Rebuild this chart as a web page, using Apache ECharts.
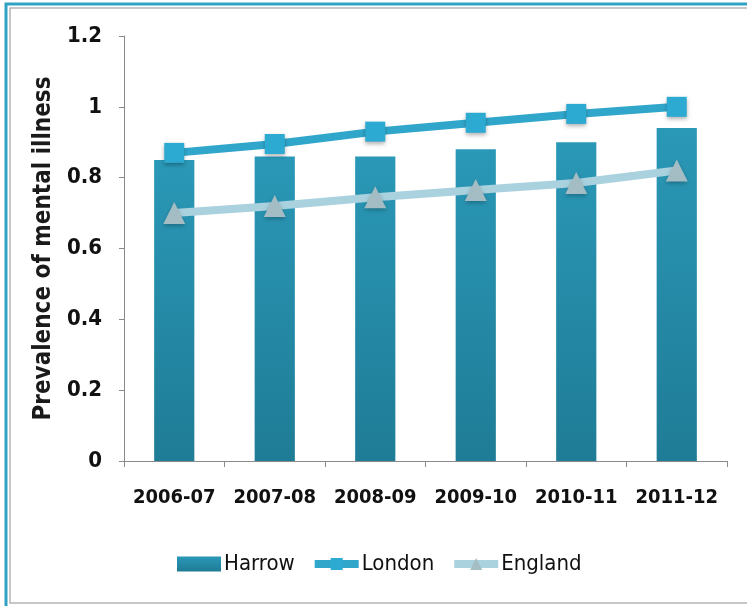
<!DOCTYPE html>
<html>
<head>
<meta charset="utf-8">
<script src="https://cdn.jsdelivr.net/npm/echarts@6/dist/echarts.min.js"></script>
<style>
html,body{margin:0;padding:0;background:#fff;}
#c{width:747px;height:606px;}
</style>
</head>
<body>
<div id="c"></div>
<script>
var categories = ['2006-07','2007-08','2008-09','2009-10','2010-11','2011-12'];
var harrow = [0.85, 0.86, 0.86, 0.88, 0.90, 0.94];
var london = [0.87, 0.895, 0.93, 0.955, 0.98, 1.00];
var england = [0.70, 0.72, 0.745, 0.765, 0.785, 0.82];
var yTicks = [0, 0.2, 0.4, 0.6, 0.8, 1, 1.2];

var FONT = '"DejaVu Sans Condensed", "Liberation Sans Narrow", "Open Sans", sans-serif';
var chart = echarts.init(document.getElementById('c'), null, {renderer: 'canvas'});
chart.setOption({
  backgroundColor: '#fff',
  animation: false,
  graphic: [
    {type: 'rect', shape: {x: 6, y: 4, width: 760, height: 610}, style: {fill: 'none', stroke: '#2fa2c4', lineWidth: 3}},
    {type: 'rect', shape: {x: 10, y: 8, width: 760, height: 595}, style: {fill: 'none', stroke: '#b5b5b5', lineWidth: 1.5}}
  ],
  grid: {left: 124, right: 20, top: 36, bottom: 145, containLabel: false},
  legend: {
    top: 548,
    left: 172,
    itemWidth: 44,
    itemHeight: 15,
    itemGap: 16,
    lineStyle: {width: 8},
    textStyle: {fontFamily: FONT, fontSize: 22, color: '#111', padding: [0, 0, 0, -2]},
    data: [{name: 'Harrow', icon: 'rect'}, {name: 'London'}, {name: 'England'}]
  },
  xAxis: {
    type: 'category',
    data: categories,
    axisLine: {lineStyle: {color: '#8a8a8a', width: 1}},
    axisTick: {show: true, length: 6, lineStyle: {color: '#8a8a8a'}},
    axisLabel: {interval: 0, fontFamily: FONT, fontSize: 20, fontWeight: 'bold', color: '#111', margin: 27}
  },
  yAxis: {
    type: 'value',
    min: 0, max: 1.2, interval: 0.2,
    name: 'Prevalence of mental illness',
    nameLocation: 'middle',
    nameGap: 64,
    nameTextStyle: {fontFamily: FONT, fontSize: 24, fontWeight: 'bold', color: '#1a1a1a'},
    axisLine: {show: true, lineStyle: {color: '#8a8a8a', width: 1}},
    axisTick: {show: true, length: 5, lineStyle: {color: '#8a8a8a'}},
    splitLine: {show: false},
    axisLabel: {
      fontFamily: FONT, fontSize: 22, fontWeight: 'bold', color: '#111', margin: 22,
      formatter: function (v) { return String(Math.round(v * 10) / 10); }
    }
  },
  series: [
    {
      name: 'Harrow',
      type: 'bar',
      data: harrow,
      barWidth: '40%',
      itemStyle: {
        color: new echarts.graphic.LinearGradient(0, 0, 0, 1, [
          {offset: 0, color: '#2a98b7'},
          {offset: 1, color: '#1f7c96'}
        ])
      },
      z: 1
    },
    {
      name: 'London',
      type: 'line',
      data: london,
      symbol: 'rect',
      symbolSize: 20,
      lineStyle: {color: '#30a6cb', width: 8},
      itemStyle: {color: '#2daad2', shadowColor: 'rgba(0,0,0,0.3)', shadowBlur: 4, shadowOffsetY: 2},
      z: 3
    },
    {
      name: 'England',
      type: 'line',
      data: england,
      symbol: 'triangle',
      symbolSize: 22,
      lineStyle: {color: '#a9d1de', width: 8},
      itemStyle: {color: '#a4bcc3', shadowColor: 'rgba(0,0,0,0.25)', shadowBlur: 4, shadowOffsetY: 2},
      z: 2
    }
  ]
});
</script>
</body>
</html>
